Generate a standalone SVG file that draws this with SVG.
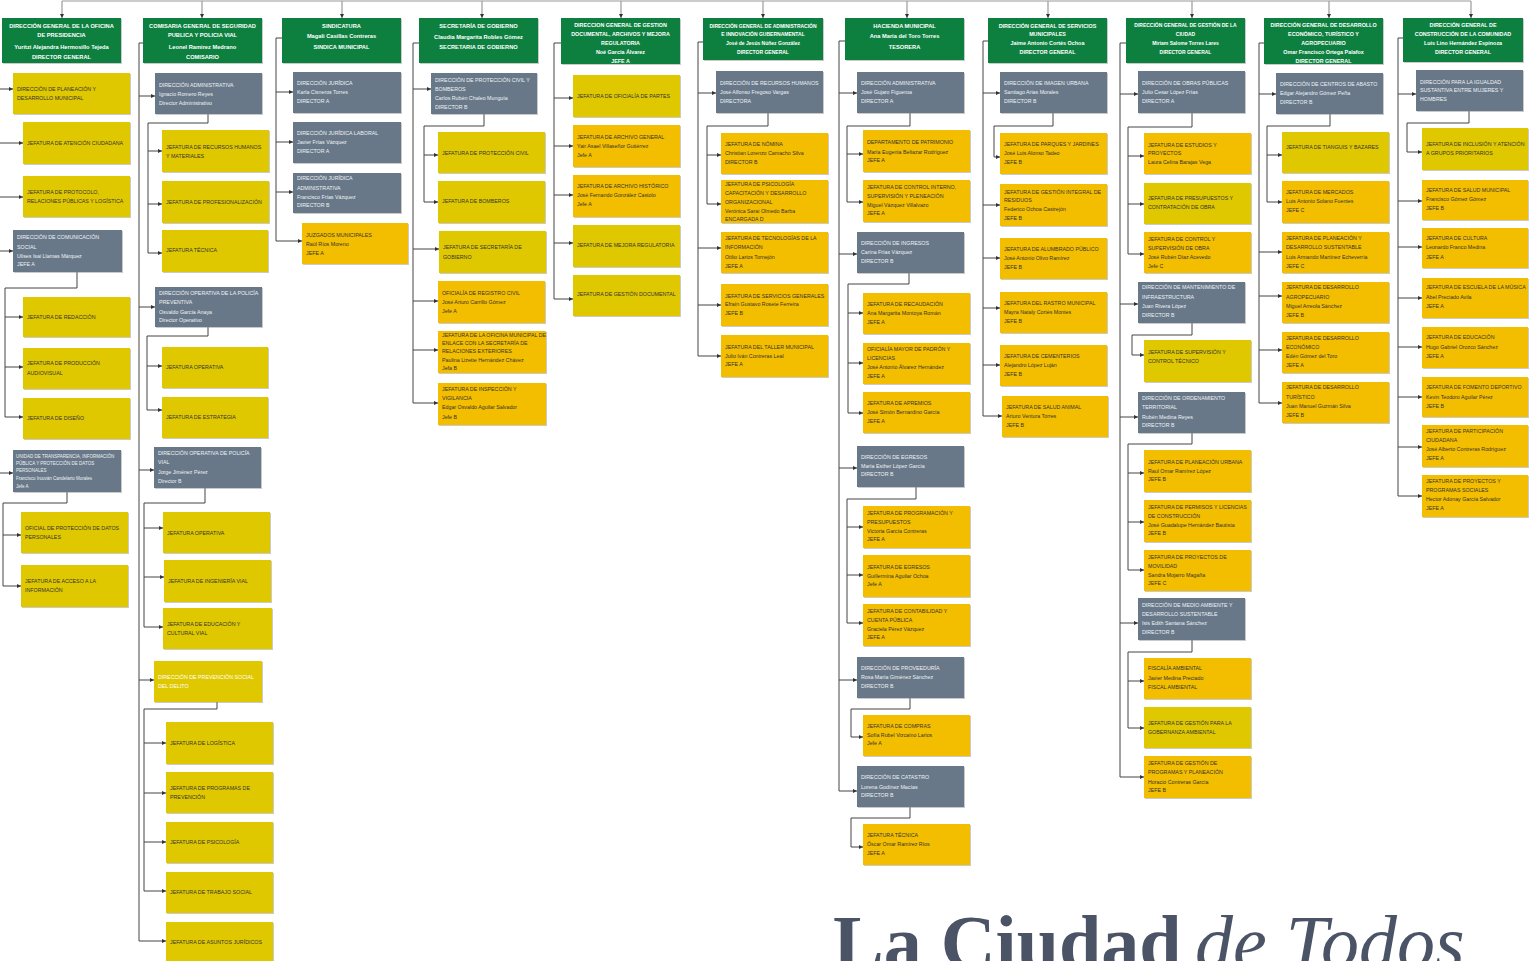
<svg xmlns="http://www.w3.org/2000/svg" width="1537" height="961" viewBox="0 0 1537 961">
<style>
.bg{fill:#ffffff}
rect.g{fill:#0b8040}
rect.s{fill:#687889}
rect.y{fill:#e0c800}
rect.a{fill:#f4be00}
rect.g,rect.s,rect.y,rect.a{filter:url(#sh)}
text{font-family:"Liberation Sans Narrow","Liberation Sans",Arial,sans-serif;font-size:5.3px}
text.h{fill:#ffffff;font-weight:bold;font-size:5.7px;text-anchor:middle}
text.hs{font-size:5px}
text.hm{font-size:5.4px}
text.l{fill:#eef1f4}
text.d{fill:#333333}
text.w{fill:#ffffff}
text.sm{font-size:4.5px}
.cn{fill:none;stroke:#444;stroke-width:1}
.top{fill:none;stroke:#9a9a9a;stroke-width:1.2}
.slogan{font-family:"Liberation Serif","Times New Roman",serif;fill:#4b5366;font-size:76px}
</style>
<defs>
<filter id="sh" x="-5%" y="-5%" width="112%" height="115%">
<feDropShadow dx="1" dy="1" stdDeviation="0.6" flood-color="#8a8a8a" flood-opacity="0.45"/>
</filter>
<marker id="ah" viewBox="0 0 6 6" refX="6" refY="3" markerWidth="4" markerHeight="4" orient="auto" markerUnits="userSpaceOnUse">
<path d="M0,0 L6,3 L0,6 z" fill="#333"/>
</marker>
</defs>
<rect class="bg" x="0" y="0" width="1537" height="961"/>

<g id="connectors">
<path class="top" d="M62,1 H1471"/>
<g class="top" marker-end="url(#ah)">
<path d="M62,1 V18"/><path d="M202,1 V18"/><path d="M342,1 V18"/><path d="M482,1 V18"/><path d="M621,1 V18"/><path d="M763,1 V18"/><path d="M907,1 V18"/><path d="M1048,1 V18"/><path d="M1192,1 V18"/><path d="M1329,1 V18"/><path d="M1471,1 V18"/>
</g>
<g class="cn">
<path d="M77,272 V288 H5 V417"/>
<path d="M67,492 V503 H3 V586"/>
<path d="M143,43 H139 V941"/>
<path d="M208,114 V123 H148 V253"/>
<path d="M208,327 V336 H147 V410"/>
<path d="M205,488 V503 H144 V627"/>
<path d="M217,702 V709 H144 V891"/>
<path d="M282,38 H276 V241"/>
<path d="M419,43 H413 V403"/>
<path d="M484,114 V126 H424 V202"/>
<path d="M561,43 H554 V299"/>
<path d="M703,42 H698 V356"/>
<path d="M768,113 V126 H707 V204"/>
<path d="M845,41 H839 V791"/>
<path d="M910,113 V126 H847 V202"/>
<path d="M909,273 V284 H848 V413"/>
<path d="M916,487 V499 H847 V623"/>
<path d="M910,698 V709 H851 V737"/>
<path d="M910,807 V818 H851 V847"/>
<path d="M988,41 H983 V416"/>
<path d="M1053,113 V126 H994 V157"/>
<path d="M1126,43 H1120 V777"/>
<path d="M1192,113 V127 H1128 V254"/>
<path d="M1192,323 V335 H1132 V355"/>
<path d="M1192,433 V444 H1128 V570"/>
<path d="M1192,640 V652 H1128 V728"/>
<path d="M1264,43 H1259 V403"/>
<path d="M1330,114 V126 H1267 V202"/>
<path d="M1403,38 H1398 V496"/>
<path d="M1469,111 V123 H1407 V152"/>
</g>
<g class="cn" marker-end="url(#ah)">
<path d="M0,89 H13"/><path d="M0,143 H23"/><path d="M0,197 H23"/><path d="M0,251 H13"/>
<path d="M5,317 H23"/><path d="M5,367 H23"/><path d="M5,417 H23"/>
<path d="M0,473 H13"/><path d="M3,535 H21"/><path d="M3,586 H21"/>
<path d="M139,96 H155"/><path d="M139,307 H155"/><path d="M139,470 H154"/><path d="M139,680 H154"/><path d="M139,941 H166"/>
<path d="M148,151 H162"/><path d="M148,204 H162"/><path d="M148,253 H162"/>
<path d="M147,366 H162"/><path d="M147,410 H162"/>
<path d="M144,528 H163"/><path d="M144,577 H164"/><path d="M144,627 H163"/>
<path d="M144,743 H166"/><path d="M144,793 H166"/><path d="M144,842 H166"/><path d="M144,891 H166"/>
<path d="M276,92 H293"/><path d="M276,142 H293"/><path d="M276,192 H293"/><path d="M276,241 H302"/>
<path d="M413,89 H431"/><path d="M424,155 H438"/><path d="M424,202 H438"/>
<path d="M413,249 H439"/><path d="M413,301 H438"/><path d="M413,350 H438"/><path d="M413,403 H438"/>
<path d="M554,98 H573"/><path d="M554,146 H573"/><path d="M554,195 H573"/><path d="M554,243 H573"/><path d="M554,299 H573"/>
<path d="M698,93 H716"/><path d="M707,155 H721"/><path d="M707,204 H721"/>
<path d="M698,248 H721"/><path d="M698,305 H721"/><path d="M698,356 H721"/>
<path d="M839,93 H857"/><path d="M839,254 H857"/><path d="M839,468 H857"/><path d="M839,680 H857"/><path d="M839,791 H857"/>
<path d="M847,154 H863"/><path d="M847,202 H863"/>
<path d="M848,313 H863"/><path d="M848,363 H863"/><path d="M848,413 H863"/>
<path d="M847,527 H863"/><path d="M847,575 H863"/><path d="M847,623 H863"/>
<path d="M851,737 H863"/><path d="M851,847 H863"/>
<path d="M983,93 H1000"/><path d="M994,157 H1000"/>
<path d="M983,205 H1000"/><path d="M983,258 H1000"/><path d="M983,308 H1000"/><path d="M983,365 H1000"/><path d="M983,416 H1002"/>
<path d="M1120,94 H1138"/><path d="M1120,304 H1138"/><path d="M1120,417 H1138"/><path d="M1120,623 H1138"/><path d="M1120,777 H1144"/>
<path d="M1128,156 H1144"/><path d="M1128,204 H1144"/><path d="M1128,254 H1144"/>
<path d="M1132,355 H1144"/>
<path d="M1128,473 H1144"/><path d="M1128,522 H1144"/><path d="M1128,570 H1144"/>
<path d="M1128,681 H1144"/><path d="M1128,728 H1144"/>
<path d="M1259,94 H1276"/><path d="M1267,155 H1282"/><path d="M1267,202 H1282"/>
<path d="M1259,252 H1282"/><path d="M1259,296 H1282"/><path d="M1259,350 H1282"/><path d="M1259,403 H1282"/>
<path d="M1398,94 H1416"/><path d="M1407,152 H1422"/>
<path d="M1398,201 H1422"/><path d="M1398,247 H1422"/><path d="M1398,298 H1422"/><path d="M1398,347 H1422"/><path d="M1398,397 H1422"/><path d="M1398,447 H1422"/><path d="M1398,496 H1422"/>
</g>
</g>

<g id="h1"><rect class="g" x="2" y="18" width="119" height="45"/><text class="h"><tspan x="61.5" y="28">DIRECCIÓN GENERAL DE LA OFICINA</tspan><tspan x="61.5" y="37">DE PRESIDENCIA</tspan><tspan x="61.5" y="49">Yuritzi Alejandra Hermosillo Tejeda</tspan><tspan x="61.5" y="59">DIRECTOR GENERAL</tspan></text></g>
<g id="h2"><rect class="g" x="143" y="18" width="119" height="45"/><text class="h"><tspan x="202.5" y="28">COMISARIA GENERAL DE SEGURIDAD</tspan><tspan x="202.5" y="37">PUBLICA Y POLICIA VIAL</tspan><tspan x="202.5" y="49">Leonel Ramirez Medrano</tspan><tspan x="202.5" y="59">COMISARIO</tspan></text></g>
<g id="h3"><rect class="g" x="282" y="18" width="119" height="45"/><text class="h"><tspan x="341.5" y="28">SINDICATURA</tspan><tspan x="341.5" y="38">Magali Casillas Contreras</tspan><tspan x="341.5" y="49">SINDICA MUNICIPAL</tspan></text></g>
<g id="h4"><rect class="g" x="419" y="18" width="119" height="45"/><text class="h"><tspan x="478.5" y="28">SECRETARÍA DE GOBIERNO</tspan><tspan x="478.5" y="39">Claudia Margarita Robles Gómez</tspan><tspan x="478.5" y="49">SECRETARIA DE GOBIERNO</tspan></text></g>
<g id="h5"><rect class="g" x="561" y="18" width="119" height="46"/><text class="h hm"><tspan x="620.5" y="27">DIRECCION GENERAL DE GESTION</tspan><tspan x="620.5" y="36">DOCUMENTAL, ARCHIVOS Y MEJORA</tspan><tspan x="620.5" y="45">REGULATORIA</tspan><tspan x="620.5" y="54">Noé García Álvarez</tspan><tspan x="620.5" y="62.5">JEFE A</tspan></text></g>
<g id="h6"><rect class="g" x="703" y="18" width="120" height="42"/><text class="h hs"><tspan x="763" y="28">DIRECCIÓN GENERAL DE ADMINISTRACIÓN</tspan><tspan x="763" y="36">E INNOVACIÓN GUBERNAMENTAL</tspan><tspan x="763" y="45">José de Jesús Núñez González</tspan><tspan x="763" y="54">DIRECTOR GENERAL</tspan></text></g>
<g id="h7"><rect class="g" x="845" y="18" width="119" height="42"/><text class="h"><tspan x="904.5" y="28">HACIENDA MUNICIPAL</tspan><tspan x="904.5" y="38">Ana María del Toro Torres</tspan><tspan x="904.5" y="49">TESORERA</tspan></text></g>
<g id="h8"><rect class="g" x="988" y="18" width="119" height="45"/><text class="h hm"><tspan x="1047.5" y="28">DIRECCIÓN GENERAL DE SERVICIOS</tspan><tspan x="1047.5" y="36">MUNICIPALES</tspan><tspan x="1047.5" y="45">Jaime Antonio Cortés Ochoa</tspan><tspan x="1047.5" y="54">DIRECTOR GENERAL</tspan></text></g>
<g id="h9"><rect class="g" x="1126" y="18" width="119" height="45"/><text class="h hs"><tspan x="1185.5" y="27">DIRECCIÓN GENERAL DE GESTIÓN DE LA</tspan><tspan x="1185.5" y="36">CIUDAD</tspan><tspan x="1185.5" y="45">Miriam Salome Torres Lares</tspan><tspan x="1185.5" y="54">DIRECTOR GENERAL</tspan></text></g>
<g id="h10"><rect class="g" x="1264" y="18" width="119" height="46"/><text class="h hm"><tspan x="1323.5" y="27">DIRECCIÓN GENERAL DE DESARROLLO</tspan><tspan x="1323.5" y="36">ECONÓMICO, TURÍSTICO Y</tspan><tspan x="1323.5" y="45">AGROPECUARIO</tspan><tspan x="1323.5" y="54">Omar Francisco Ortega Palafox</tspan><tspan x="1323.5" y="62.5">DIRECTOR GENERAL</tspan></text></g>
<g id="h11"><rect class="g" x="1403" y="18" width="120" height="44"/><text class="h hm"><tspan x="1463" y="27">DIRECCIÓN GENERAL DE</tspan><tspan x="1463" y="36">CONSTRUCCIÓN DE LA COMUNIDAD</tspan><tspan x="1463" y="45">Luis Lino Hernández Espinoza</tspan><tspan x="1463" y="54">DIRECTOR GENERAL</tspan></text></g>

<g id="n1a"><rect class="y" x="13" y="73" width="117" height="41"/><text class="d"><tspan x="17" y="91">DIRECCIÓN DE PLANEACIÓN Y</tspan><tspan x="17" y="100">DESARROLLO MUNICIPAL</tspan></text></g>
<g id="n1b"><rect class="y" x="23" y="122" width="107" height="42"/><text class="d"><tspan x="27" y="145">JEFATURA DE ATENCIÓN CIUDADANA</tspan></text></g>
<g id="n1c"><rect class="y" x="23" y="176" width="107" height="41"/><text class="d"><tspan x="27" y="194">JEFATURA DE PROTOCOLO,</tspan><tspan x="27" y="203">RELACIONES PÚBLICAS Y LOGÍSTICA</tspan></text></g>
<g id="n1d"><rect class="s" x="13" y="230" width="109" height="42"/><text class="l"><tspan x="17" y="239">DIRECCIÓN DE COMUNICACIÓN</tspan><tspan x="17" y="249">SOCIAL</tspan><tspan x="17" y="258">Ulises Isai Llamas Márquez</tspan><tspan x="17" y="266">JEFE A</tspan></text></g>
<g id="n1e"><rect class="y" x="23" y="297" width="107" height="40"/><text class="d"><tspan x="27" y="319">JEFATURA DE REDACCIÓN</tspan></text></g>
<g id="n1f"><rect class="y" x="23" y="348" width="107" height="41"/><text class="d"><tspan x="27" y="365">JEFATURA DE PRODUCCIÓN</tspan><tspan x="27" y="375">AUDIOVISUAL</tspan></text></g>
<g id="n1g"><rect class="y" x="23" y="398" width="107" height="41"/><text class="d"><tspan x="27" y="420">JEFATURA DE DISEÑO</tspan></text></g>
<g id="n1h"><rect class="s" x="13" y="450" width="108" height="42"/><text class="l sm"><tspan x="16" y="458">UNIDAD DE TRANSPARENCIA, INFORMACIÓN</tspan><tspan x="16" y="465">PÚBLICA Y PROTECCIÓN DE DATOS</tspan><tspan x="16" y="472">PERSONALES</tspan><tspan x="16" y="480">Francisco Iroován Candelario Morales</tspan><tspan x="16" y="488">Jefe A</tspan></text></g>
<g id="n1i"><rect class="y" x="21" y="512" width="107" height="41"/><text class="d"><tspan x="25" y="530">OFICIAL DE PROTECCIÓN DE DATOS</tspan><tspan x="25" y="539">PERSONALES</tspan></text></g>
<g id="n1j"><rect class="y" x="21" y="565" width="107" height="42"/><text class="d"><tspan x="25" y="583">JEFATURA DE ACCESO A LA</tspan><tspan x="25" y="592">INFORMACIÓN</tspan></text></g>

<g id="n2a"><rect class="s" x="155" y="73" width="107" height="41"/><text class="l"><tspan x="159" y="87">DIRECCIÓN ADMINISTRATIVA</tspan><tspan x="159" y="96">Ignacio Romero Reyes</tspan><tspan x="159" y="105">Director Administrativo</tspan></text></g>
<g id="n2b"><rect class="y" x="162" y="130" width="107" height="42"/><text class="d"><tspan x="166" y="149">JEFATURA DE RECURSOS HUMANOS</tspan><tspan x="166" y="158">Y MATERIALES</tspan></text></g>
<g id="n2c"><rect class="y" x="162" y="181" width="107" height="42"/><text class="d"><tspan x="166" y="204">JEFATURA DE PROFESIONALIZACIÓN</tspan></text></g>
<g id="n2d"><rect class="y" x="162" y="230" width="106" height="42"/><text class="d"><tspan x="166" y="252">JEFATURA TÉCNICA</tspan></text></g>
<g id="n2e"><rect class="s" x="155" y="287" width="107" height="40"/><text class="l"><tspan x="159" y="295">DIRECCIÓN OPERATIVA DE LA POLICÍA</tspan><tspan x="159" y="304">PREVENTIVA</tspan><tspan x="159" y="314">Osvaldo García Anaya</tspan><tspan x="159" y="322">Director Operativo</tspan></text></g>
<g id="n2f"><rect class="y" x="162" y="347" width="106" height="41"/><text class="d"><tspan x="166" y="369">JEFATURA OPERATIVA</tspan></text></g>
<g id="n2g"><rect class="y" x="162" y="397" width="106" height="41"/><text class="d"><tspan x="166" y="419">JEFATURA DE ESTRATEGIA</tspan></text></g>
<g id="n2h"><rect class="s" x="154" y="447" width="107" height="41"/><text class="l"><tspan x="158" y="455">DIRECCIÓN OPERATIVA DE POLICÍA</tspan><tspan x="158" y="464">VIAL</tspan><tspan x="158" y="474">Jorge Jiménez Pérez</tspan><tspan x="158" y="483">Director B</tspan></text></g>
<g id="n2i"><rect class="y" x="163" y="512" width="107" height="41"/><text class="d"><tspan x="167" y="535">JEFATURA OPERATIVA</tspan></text></g>
<g id="n2j"><rect class="y" x="164" y="560" width="107" height="42"/><text class="d"><tspan x="168" y="583">JEFATURA DE INGENIERÍA VIAL</tspan></text></g>
<g id="n2k"><rect class="y" x="163" y="608" width="109" height="41"/><text class="d"><tspan x="167" y="626">JEFATURA DE EDUCACIÓN Y</tspan><tspan x="167" y="635">CULTURAL VIAL</tspan></text></g>
<g id="n2l"><rect class="y" x="154" y="661" width="108" height="41"/><text class="w"><tspan x="158" y="679">DIRECCIÓN DE PREVENCIÓN SOCIAL</tspan><tspan x="158" y="688">DEL DELITO</tspan></text></g>
<g id="n2m"><rect class="y" x="166" y="722" width="107" height="42"/><text class="d"><tspan x="170" y="745">JEFATURA DE LOGÍSTICA</tspan></text></g>
<g id="n2n"><rect class="y" x="166" y="772" width="107" height="41"/><text class="d"><tspan x="170" y="790">JEFATURA DE PROGRAMAS DE</tspan><tspan x="170" y="799">PREVENCIÓN</tspan></text></g>
<g id="n2o"><rect class="y" x="166" y="822" width="107" height="41"/><text class="d"><tspan x="170" y="844">JEFATURA DE PSICOLOGÍA</tspan></text></g>
<g id="n2p"><rect class="y" x="166" y="872" width="107" height="41"/><text class="d"><tspan x="170" y="894">JEFATURA DE TRABAJO SOCIAL</tspan></text></g>
<g id="n2q"><rect class="y" x="166" y="922" width="107" height="45"/><text class="d"><tspan x="170" y="944">JEFATURA DE ASUNTOS JURÍDICOS</tspan></text></g>

<g id="n3a"><rect class="s" x="293" y="72" width="108" height="41"/><text class="l"><tspan x="297" y="85">DIRECCIÓN JURÍDICA</tspan><tspan x="297" y="94">Karla Cisneros Torres</tspan><tspan x="297" y="103">DIRECTOR A</tspan></text></g>
<g id="n3b"><rect class="s" x="293" y="122" width="108" height="41"/><text class="l"><tspan x="297" y="135">DIRECCIÓN JURÍDICA LABORAL</tspan><tspan x="297" y="144">Javier Frías Vázquez</tspan><tspan x="297" y="153">DIRECTOR A</tspan></text></g>
<g id="n3c"><rect class="s" x="293" y="173" width="108" height="40"/><text class="l"><tspan x="297" y="180">DIRECCIÓN JURÍDICA</tspan><tspan x="297" y="190">ADMINISTRATIVA</tspan><tspan x="297" y="199">Francisco Frías Vázquez</tspan><tspan x="297" y="207">DIRECTOR B</tspan></text></g>
<g id="n3d"><rect class="a" x="302" y="223" width="106" height="41"/><text class="d"><tspan x="306" y="237">JUZGADOS MUNICIPALES</tspan><tspan x="306" y="246">Raúl Ríos Moreno</tspan><tspan x="306" y="255">JEFE A</tspan></text></g>

<g id="n4a"><rect class="s" x="431" y="73" width="106" height="41"/><text class="l"><tspan x="435" y="82">DIRECCIÓN DE PROTECCIÓN CIVIL Y</tspan><tspan x="435" y="91">BOMBEROS</tspan><tspan x="435" y="100">Carlos Rubén Chaleo Munguía</tspan><tspan x="435" y="109">DIRECTOR B</tspan></text></g>
<g id="n4b"><rect class="y" x="438" y="132" width="107" height="41"/><text class="d"><tspan x="442" y="155">JEFATURA DE PROTECCIÓN CIVIL</tspan></text></g>
<g id="n4c"><rect class="y" x="438" y="181" width="107" height="42"/><text class="d"><tspan x="442" y="203">JEFATURA DE BOMBEROS</tspan></text></g>
<g id="n4d"><rect class="y" x="439" y="231" width="107" height="42"/><text class="d"><tspan x="443" y="249">JEFATURA DE SECRETARÍA DE</tspan><tspan x="443" y="259">GOBIERNO</tspan></text></g>
<g id="n4e"><rect class="a" x="438" y="281" width="107" height="42"/><text class="d"><tspan x="442" y="295">OFICIALÍA DE REGISTRO CIVIL</tspan><tspan x="442" y="304">José Arturo Carrillo Gómez</tspan><tspan x="442" y="313">Jefe A</tspan></text></g>
<g id="n4f"><rect class="a" x="438" y="331" width="108" height="42"/><text class="d"><tspan x="442" y="337">JEFATURA DE LA OFICINA MUNICIPAL DE</tspan><tspan x="442" y="345">ENLACE CON LA SECRETARÍA DE</tspan><tspan x="442" y="353">RELACIONES EXTERIORES</tspan><tspan x="442" y="362">Paulina Lizette Hernández Chávez</tspan><tspan x="442" y="370">Jefa B</tspan></text></g>
<g id="n4g"><rect class="a" x="438" y="383" width="108" height="42"/><text class="d"><tspan x="442" y="391">JEFATURA DE INSPECCIÓN Y</tspan><tspan x="442" y="400">VIGILANCIA</tspan><tspan x="442" y="409">Edgar Osvaldo Aguilar Salvador</tspan><tspan x="442" y="419">Jefe B</tspan></text></g>

<g id="n5a"><rect class="y" x="573" y="75" width="107" height="42"/><text class="d"><tspan x="577" y="98">JEFATURA DE OFICIALÍA DE PARTES</tspan></text></g>
<g id="n5b"><rect class="a" x="573" y="125" width="107" height="42"/><text class="d"><tspan x="577" y="139">JEFATURA DE ARCHIVO GENERAL</tspan><tspan x="577" y="148">Yair Asael Villaseñor Gutiérrez</tspan><tspan x="577" y="157">Jefe A</tspan></text></g>
<g id="n5c"><rect class="a" x="573" y="175" width="107" height="42"/><text class="d"><tspan x="577" y="188">JEFATURA DE ARCHIVO HISTÓRICO</tspan><tspan x="577" y="197">José Fernando González Castolo</tspan><tspan x="577" y="206">Jefe A</tspan></text></g>
<g id="n5d"><rect class="y" x="573" y="225" width="107" height="42"/><text class="d"><tspan x="577" y="247">JEFATURA DE MEJORA REGULATORIA</tspan></text></g>
<g id="n5e"><rect class="y" x="573" y="275" width="107" height="41"/><text class="d"><tspan x="577" y="296">JEFATURA DE GESTIÓN DOCUMENTAL</tspan></text></g>

<g id="n6a"><rect class="s" x="716" y="71" width="107" height="42"/><text class="l"><tspan x="720" y="85">DIRECCIÓN DE RECURSOS HUMANOS</tspan><tspan x="720" y="94">José Alfonso Fregoso Vargas</tspan><tspan x="720" y="103">DIRECTORA</tspan></text></g>
<g id="n6b"><rect class="a" x="721" y="133" width="107" height="41"/><text class="d"><tspan x="725" y="146">JEFATURA DE NÓMINA</tspan><tspan x="725" y="155">Christian Lorenzo Camacho Silva</tspan><tspan x="725" y="164">DIRECTOR B</tspan></text></g>
<g id="n6c"><rect class="a" x="721" y="180" width="107" height="43"/><text class="d"><tspan x="725" y="186">JEFATURA DE PSICOLOGÍA</tspan><tspan x="725" y="195">CAPACITACIÓN Y DESARROLLO</tspan><tspan x="725" y="204">ORGANIZACIONAL</tspan><tspan x="725" y="213">Verónica Sarai Olmedo Barba</tspan><tspan x="725" y="221">ENCARGADA D</tspan></text></g>
<g id="n6d"><rect class="a" x="721" y="232" width="107" height="41"/><text class="d"><tspan x="725" y="240">JEFATURA DE TECNOLOGÍAS DE LA</tspan><tspan x="725" y="249">INFORMACIÓN</tspan><tspan x="725" y="259">Otilio Larios Tornejón</tspan><tspan x="725" y="268">JEFE A</tspan></text></g>
<g id="n6e"><rect class="a" x="721" y="284" width="107" height="42"/><text class="d"><tspan x="725" y="298">JEFATURA DE SERVICIOS GENERALES</tspan><tspan x="725" y="306">Efraín Gustavo Rosete Ferreira</tspan><tspan x="725" y="315">JEFE B</tspan></text></g>
<g id="n6f"><rect class="a" x="721" y="335" width="107" height="42"/><text class="d"><tspan x="725" y="349">JEFATURA DEL TALLER MUNICIPAL</tspan><tspan x="725" y="358">Julio Iván Contreras Leal</tspan><tspan x="725" y="366">JEFE A</tspan></text></g>

<g id="n7a"><rect class="s" x="857" y="72" width="107" height="41"/><text class="l"><tspan x="861" y="85">DIRECCIÓN ADMINISTRATIVA</tspan><tspan x="861" y="94">José Gujaro Figueroa</tspan><tspan x="861" y="103">DIRECTOR A</tspan></text></g>
<g id="n7b"><rect class="a" x="863" y="130" width="107" height="42"/><text class="d"><tspan x="867" y="144">DEPARTAMENTO DE PATRIMONIO</tspan><tspan x="867" y="154">María Eugenia Beltazar Rodríguez</tspan><tspan x="867" y="162">JEFE A</tspan></text></g>
<g id="n7c"><rect class="a" x="863" y="180" width="107" height="42"/><text class="d"><tspan x="867" y="189">JEFATURA DE CONTROL INTERNO,</tspan><tspan x="867" y="198">SUPERVISIÓN Y PLENEACIÓN</tspan><tspan x="867" y="207">Miguel Vázquez Villalvazo</tspan><tspan x="867" y="215">JEFE A</tspan></text></g>
<g id="n7d"><rect class="s" x="857" y="232" width="107" height="41"/><text class="l"><tspan x="861" y="245">DIRECCIÓN DE INGRESOS</tspan><tspan x="861" y="254">Carina Frías Vázquez</tspan><tspan x="861" y="263">DIRECTOR B</tspan></text></g>
<g id="n7e"><rect class="a" x="863" y="293" width="107" height="41"/><text class="d"><tspan x="867" y="306">JEFATURA DE RECAUDACIÓN</tspan><tspan x="867" y="315">Ana Margarita Montoya Román</tspan><tspan x="867" y="324">JEFE A</tspan></text></g>
<g id="n7f"><rect class="a" x="863" y="343" width="107" height="41"/><text class="d"><tspan x="867" y="351">OFICIALÍA MAYOR DE PADRÓN Y</tspan><tspan x="867" y="360">LICENCIAS</tspan><tspan x="867" y="369">José Antonio Álvarez Hernández</tspan><tspan x="867" y="378">JEFE A</tspan></text></g>
<g id="n7g"><rect class="a" x="863" y="392" width="107" height="41"/><text class="d"><tspan x="867" y="405">JEFATURA DE APREMIOS</tspan><tspan x="867" y="414">José Simón Bernardino García</tspan><tspan x="867" y="423">JEFE A</tspan></text></g>
<g id="n7h"><rect class="s" x="857" y="446" width="107" height="41"/><text class="l"><tspan x="861" y="459">DIRECCIÓN DE EGRESOS</tspan><tspan x="861" y="468">María Esther López García</tspan><tspan x="861" y="476">DIRECTOR B</tspan></text></g>
<g id="n7i"><rect class="a" x="863" y="506" width="107" height="42"/><text class="d"><tspan x="867" y="515">JEFATURA DE PROGRAMACIÓN Y</tspan><tspan x="867" y="524">PRESUPUESTOS</tspan><tspan x="867" y="533">Victoria García Contreras</tspan><tspan x="867" y="541">JEFE A</tspan></text></g>
<g id="n7j"><rect class="a" x="863" y="555" width="107" height="42"/><text class="d"><tspan x="867" y="569">JEFATURA DE EGRESOS</tspan><tspan x="867" y="578">Guillermina Aguilar Ochoa</tspan><tspan x="867" y="586">Jefe A</tspan></text></g>
<g id="n7k"><rect class="a" x="863" y="604" width="107" height="42"/><text class="d"><tspan x="867" y="613">JEFATURA DE CONTABILIDAD Y</tspan><tspan x="867" y="622">CUENTA PÚBLICA</tspan><tspan x="867" y="631">Graciela Pérez Vázquez</tspan><tspan x="867" y="639">JEFE A</tspan></text></g>
<g id="n7l"><rect class="s" x="857" y="657" width="107" height="41"/><text class="l"><tspan x="861" y="670">DIRECCIÓN DE PROVEEDURÍA</tspan><tspan x="861" y="679">Rosa María Giménez Sánchez</tspan><tspan x="861" y="688">DIRECTOR B</tspan></text></g>
<g id="n7m"><rect class="a" x="863" y="715" width="107" height="41"/><text class="d"><tspan x="867" y="728">JEFATURA DE COMPRAS</tspan><tspan x="867" y="737">Sofía Rubel Vizcaíno Larios</tspan><tspan x="867" y="745">Jefe A</tspan></text></g>
<g id="n7n"><rect class="s" x="857" y="766" width="107" height="41"/><text class="l"><tspan x="861" y="779">DIRECCIÓN DE CATASTRO</tspan><tspan x="861" y="789">Lorena Godínez Macías</tspan><tspan x="861" y="797">DIRECTOR B</tspan></text></g>
<g id="n7o"><rect class="a" x="863" y="824" width="107" height="41"/><text class="d"><tspan x="867" y="837">JEFATURA TÉCNICA</tspan><tspan x="867" y="846">Óscar Omar Ramírez Ríos</tspan><tspan x="867" y="855">JEFE A</tspan></text></g>

<g id="n8a"><rect class="s" x="1000" y="72" width="107" height="41"/><text class="l"><tspan x="1004" y="85">DIRECCIÓN DE IMAGEN URBANA</tspan><tspan x="1004" y="94">Santiago Arias Morales</tspan><tspan x="1004" y="103">DIRECTOR B</tspan></text></g>
<g id="n8b"><rect class="a" x="1000" y="133" width="107" height="41"/><text class="d"><tspan x="1004" y="146">JEFATURA DE PARQUES Y JARDINES</tspan><tspan x="1004" y="155">José Luis Alonso Tadeo</tspan><tspan x="1004" y="164">JEFE B</tspan></text></g>
<g id="n8c"><rect class="a" x="1000" y="184" width="107" height="42"/><text class="d"><tspan x="1004" y="194">JEFATURA DE GESTIÓN INTEGRAL DE</tspan><tspan x="1004" y="202">RESIDUOS</tspan><tspan x="1004" y="211">Federico Ochoa Castrejón</tspan><tspan x="1004" y="220">JEFE B</tspan></text></g>
<g id="n8d"><rect class="a" x="1000" y="238" width="107" height="41"/><text class="d"><tspan x="1004" y="251">JEFATURA DE ALUMBRADO PÚBLICO</tspan><tspan x="1004" y="260">José Antonio Olivo Ramírez</tspan><tspan x="1004" y="269">JEFE B</tspan></text></g>
<g id="n8e"><rect class="a" x="1000" y="292" width="107" height="41"/><text class="d"><tspan x="1004" y="305">JEFATURA DEL RASTRO MUNICIPAL</tspan><tspan x="1004" y="314">Mayra Nataly Cortés Montes</tspan><tspan x="1004" y="323">JEFE B</tspan></text></g>
<g id="n8f"><rect class="a" x="1000" y="345" width="107" height="41"/><text class="d"><tspan x="1004" y="358">JEFATURA DE CEMENTERIOS</tspan><tspan x="1004" y="367">Alejandro López Luján</tspan><tspan x="1004" y="376">JEFE B</tspan></text></g>
<g id="n8g"><rect class="a" x="1002" y="396" width="106" height="41"/><text class="d"><tspan x="1006" y="409">JEFATURA DE SALUD ANIMAL</tspan><tspan x="1006" y="418">Arturo Ventura Torres</tspan><tspan x="1006" y="427">JEFE B</tspan></text></g>

<g id="n9a"><rect class="s" x="1138" y="71" width="107" height="42"/><text class="l"><tspan x="1142" y="85">DIRECCIÓN DE OBRAS PÚBLICAS</tspan><tspan x="1142" y="94">Julio Cesar López Frías</tspan><tspan x="1142" y="103">DIRECTOR A</tspan></text></g>
<g id="n9b"><rect class="a" x="1144" y="133" width="107" height="41"/><text class="d"><tspan x="1148" y="147">JEFATURA DE ESTUDIOS Y</tspan><tspan x="1148" y="155">PROYECTOS</tspan><tspan x="1148" y="164">Laura Celina Barajas Vega</tspan></text></g>
<g id="n9c"><rect class="y" x="1144" y="183" width="107" height="41"/><text class="d"><tspan x="1148" y="200">JEFATURA DE PRESUPUESTOS Y</tspan><tspan x="1148" y="209">CONTRATACIÓN DE OBRA</tspan></text></g>
<g id="n9d"><rect class="a" x="1144" y="232" width="107" height="41"/><text class="d"><tspan x="1148" y="241">JEFATURA DE CONTROL Y</tspan><tspan x="1148" y="250">SUPERVISIÓN DE OBRA</tspan><tspan x="1148" y="259">José Rubén Díaz Acevedo</tspan><tspan x="1148" y="268">Jefe C</tspan></text></g>
<g id="n9e"><rect class="s" x="1138" y="282" width="107" height="41"/><text class="l"><tspan x="1142" y="289">DIRECCIÓN DE MANTENIMIENTO DE</tspan><tspan x="1142" y="299">INFRAESTRUCTURA</tspan><tspan x="1142" y="308">Juan Rivera López</tspan><tspan x="1142" y="317">DIRECTOR B</tspan></text></g>
<g id="n9f"><rect class="y" x="1144" y="340" width="107" height="42"/><text class="d"><tspan x="1148" y="354">JEFATURA DE SUPERVISIÓN Y</tspan><tspan x="1148" y="363">CONTROL TÉCNICO</tspan></text></g>
<g id="n9g"><rect class="s" x="1138" y="392" width="107" height="41"/><text class="l"><tspan x="1142" y="400">DIRECCIÓN DE ORDENAMIENTO</tspan><tspan x="1142" y="409">TERRITORIAL</tspan><tspan x="1142" y="419">Rubén Medina Reyes</tspan><tspan x="1142" y="427">DIRECTOR B</tspan></text></g>
<g id="n9h"><rect class="a" x="1144" y="450" width="107" height="42"/><text class="d"><tspan x="1148" y="464">JEFATURA DE PLANEACIÓN URBANA</tspan><tspan x="1148" y="473">Raul Omar Ramírez López</tspan><tspan x="1148" y="481">JEFE B</tspan></text></g>
<g id="n9i"><rect class="a" x="1144" y="500" width="107" height="42"/><text class="d"><tspan x="1148" y="509">JEFATURA DE PERMISOS Y LICENCIAS</tspan><tspan x="1148" y="518">DE CONSTRUCCIÓN</tspan><tspan x="1148" y="527">José Guadalupe Hernández Bautista</tspan><tspan x="1148" y="535">JEFE B</tspan></text></g>
<g id="n9j"><rect class="a" x="1144" y="550" width="107" height="41"/><text class="d"><tspan x="1148" y="559">JEFATURA DE PROYECTOS DE</tspan><tspan x="1148" y="568">MOVILIDAD</tspan><tspan x="1148" y="577">Sandra Mojarro Magaña</tspan><tspan x="1148" y="585">JEFE C</tspan></text></g>
<g id="n9k"><rect class="s" x="1138" y="598" width="107" height="42"/><text class="l"><tspan x="1142" y="607">DIRECCIÓN DE MEDIO AMBIENTE Y</tspan><tspan x="1142" y="616">DESARROLLO SUSTENTABLE</tspan><tspan x="1142" y="625">Isis Edith Santana Sánchez</tspan><tspan x="1142" y="634">DIRECTOR B</tspan></text></g>
<g id="n9l"><rect class="a" x="1144" y="658" width="107" height="41"/><text class="d"><tspan x="1148" y="670">FISCALÍA AMBIENTAL</tspan><tspan x="1148" y="680">Javier Medina Preciado</tspan><tspan x="1148" y="689">FISCAL AMBIENTAL</tspan></text></g>
<g id="n9m"><rect class="y" x="1144" y="707" width="107" height="41"/><text class="d"><tspan x="1148" y="725">JEFATURA DE GESTIÓN PARA LA</tspan><tspan x="1148" y="734">GOBERNANZA AMBIENTAL</tspan></text></g>
<g id="n9n"><rect class="a" x="1144" y="756" width="107" height="42"/><text class="d"><tspan x="1148" y="765">JEFATURA DE GESTIÓN DE</tspan><tspan x="1148" y="774">PROGRAMAS Y PLANEACIÓN</tspan><tspan x="1148" y="784">Horacio Contreras García</tspan><tspan x="1148" y="792">JEFE B</tspan></text></g>

<g id="n10a"><rect class="s" x="1276" y="73" width="107" height="41"/><text class="l"><tspan x="1280" y="86">DIRECCIÓN DE CENTROS DE ABASTO</tspan><tspan x="1280" y="95">Edgar Alejandro Gómez Peña</tspan><tspan x="1280" y="104">DIRECTOR B</tspan></text></g>
<g id="n10b"><rect class="y" x="1282" y="132" width="107" height="41"/><text class="d"><tspan x="1286" y="149">JEFATURA DE TIANGUIS Y BAZARES</tspan></text></g>
<g id="n10c"><rect class="a" x="1282" y="181" width="107" height="42"/><text class="d"><tspan x="1286" y="194">JEFATURA DE MERCADOS</tspan><tspan x="1286" y="203">Luis Antonio Solano Fuentes</tspan><tspan x="1286" y="212">JEFE C</tspan></text></g>
<g id="n10d"><rect class="a" x="1282" y="232" width="107" height="41"/><text class="d"><tspan x="1286" y="240">JEFATURA DE PLANEACIÓN Y</tspan><tspan x="1286" y="249">DESARROLLO SUSTENTABLE</tspan><tspan x="1286" y="259">Luis Armando Martínez Echeverría</tspan><tspan x="1286" y="268">JEFE C</tspan></text></g>
<g id="n10e"><rect class="a" x="1282" y="282" width="107" height="41"/><text class="d"><tspan x="1286" y="289">JEFATURA DE DESARROLLO</tspan><tspan x="1286" y="299">AGROPECUARIO</tspan><tspan x="1286" y="308">Miguel Arreola Sánchez</tspan><tspan x="1286" y="317">JEFE B</tspan></text></g>
<g id="n10f"><rect class="a" x="1282" y="332" width="107" height="41"/><text class="d"><tspan x="1286" y="340">JEFATURA DE DESARROLLO</tspan><tspan x="1286" y="349">ECONÓMICO</tspan><tspan x="1286" y="358">Edén Gómez del Toro</tspan><tspan x="1286" y="367">JEFE A</tspan></text></g>
<g id="n10g"><rect class="a" x="1282" y="382" width="107" height="41"/><text class="d"><tspan x="1286" y="389">JEFATURA DE DESARROLLO</tspan><tspan x="1286" y="399">TURÍSTICO</tspan><tspan x="1286" y="408">Juan Manuel Guzmán Silva</tspan><tspan x="1286" y="417">JEFE B</tspan></text></g>

<g id="n11a"><rect class="s" x="1416" y="70" width="107" height="41"/><text class="l"><tspan x="1420" y="84">DIRECCIÓN PARA LA IGUALDAD</tspan><tspan x="1420" y="92">SUSTANTIVA ENTRE MUJERES Y</tspan><tspan x="1420" y="101">HOMBRES</tspan></text></g>
<g id="n11b"><rect class="y" x="1422" y="128" width="106" height="42"/><text class="d"><tspan x="1426" y="146">JEFATURA DE INCLUSIÓN Y ATENCIÓN</tspan><tspan x="1426" y="155">A GRUPOS PRIORITARIOS</tspan></text></g>
<g id="n11c"><rect class="a" x="1422" y="180" width="106" height="40"/><text class="d"><tspan x="1426" y="192">JEFATURA DE SALUD MUNICIPAL</tspan><tspan x="1426" y="201">Francisco Gómez Gómez</tspan><tspan x="1426" y="210">JEFE B</tspan></text></g>
<g id="n11d"><rect class="a" x="1422" y="228" width="106" height="40"/><text class="d"><tspan x="1426" y="240">JEFATURA DE CULTURA</tspan><tspan x="1426" y="249">Leonardo Franco Medina</tspan><tspan x="1426" y="259">JEFE A</tspan></text></g>
<g id="n11e"><rect class="a" x="1422" y="278" width="106" height="40"/><text class="d"><tspan x="1426" y="289">JEFATURA DE ESCUELA DE LA MÚSICA</tspan><tspan x="1426" y="299">Abel Preciado Avila</tspan><tspan x="1426" y="308">JEFE A</tspan></text></g>
<g id="n11f"><rect class="a" x="1422" y="327" width="106" height="41"/><text class="d"><tspan x="1426" y="339">JEFATURA DE EDUCACIÓN</tspan><tspan x="1426" y="349">Hugo Gabriel Orozco Sánchez</tspan><tspan x="1426" y="358">JEFE A</tspan></text></g>
<g id="n11g"><rect class="a" x="1422" y="377" width="106" height="40"/><text class="d"><tspan x="1426" y="389">JEFATURA DE FOMENTO DEPORTIVO</tspan><tspan x="1426" y="399">Kevin Teodoro Aguilar Pérez</tspan><tspan x="1426" y="408">JEFE B</tspan></text></g>
<g id="n11h"><rect class="a" x="1422" y="425" width="106" height="42"/><text class="d"><tspan x="1426" y="433">JEFATURA DE PARTICIPACIÓN</tspan><tspan x="1426" y="442">CIUDADANA</tspan><tspan x="1426" y="451">José Alberto Contreras Rodríguez</tspan><tspan x="1426" y="460">JEFE A</tspan></text></g>
<g id="n11i"><rect class="a" x="1422" y="475" width="106" height="42"/><text class="d"><tspan x="1426" y="483">JEFATURA DE PROYECTOS Y</tspan><tspan x="1426" y="492">PROGRAMAS SOCIALES</tspan><tspan x="1426" y="501">Hector Adonay García Salvador</tspan><tspan x="1426" y="510">JEFE A</tspan></text></g>

<g id="slogan">
<text class="slogan" x="833" y="968" font-weight="bold">La Ciudad</text>
<text class="slogan" x="1195" y="968" font-style="italic">de Todos</text>
</g>
</svg>
